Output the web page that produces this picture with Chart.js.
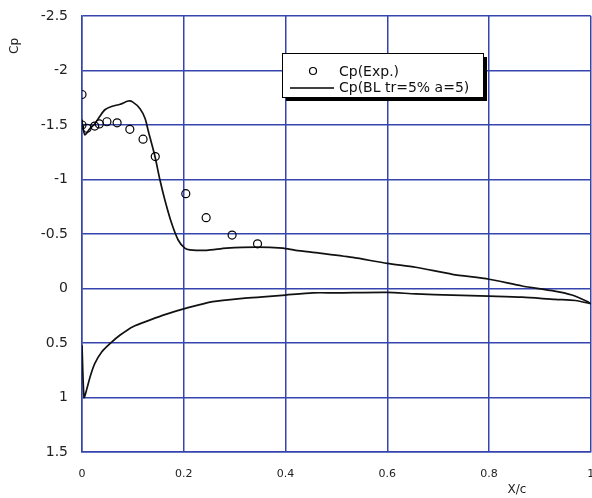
<!DOCTYPE html>
<html>
<head>
<meta charset="utf-8">
<script src="https://cdn.jsdelivr.net/npm/chart.js@4/dist/chart.umd.min.js"></script>
<style>
  html, body { margin: 0; padding: 0; background: #fff; overflow: hidden; }
  /* a few px wider than the window so the x=1 gridline sits on the right edge */
  #wrap { width: 596px; height: 498px; position: relative; }
</style>
</head>
<body>
<div id="wrap"><canvas id="cpChart"></canvas></div>
<script>
// measured pressure coefficients
const expX  = [0, 0, 0.010, 0.025, 0.034, 0.049, 0.069, 0.094, 0.120, 0.144, 0.204, 0.244, 0.295, 0.345];
const expCp = [-1.78, -1.50, -1.47, -1.49, -1.51, -1.53, -1.52, -1.46, -1.37, -1.21, -0.87, -0.65, -0.49, -0.41];

// boundary layer calc, upper surface
const upperX  = [0, 0, 0.003, 0.006, 0.016, 0.025, 0.035, 0.045, 0.058, 0.075, 0.091, 0.100, 0.114, 0.124, 0.130,
                 0.143, 0.153, 0.163, 0.176, 0.189, 0.202, 0.212, 0.245, 0.284, 0.343, 0.395, 0.420, 0.467, 0.532,
                 0.600, 0.656, 0.728, 0.800, 0.865, 0.924, 0.963, 0.993, 1.0];
const upperCp = [-2.05, -1.55, -1.45, -1.41, -1.47, -1.51, -1.58, -1.64, -1.67, -1.69, -1.72, -1.71, -1.65, -1.56, -1.45,
                 -1.22, -1.00, -0.81, -0.60, -0.445, -0.37, -0.355, -0.35, -0.37, -0.38, -0.37, -0.35, -0.325, -0.285,
                 -0.23, -0.195, -0.13, -0.085, -0.023, 0.02, 0.06, 0.12, 0.14];

// boundary layer calc, lower surface
const lowerX  = [0, 0.004, 0.009, 0.016, 0.025, 0.039, 0.055, 0.075, 0.100, 0.133, 0.166, 0.205, 0.257, 0.316,
                 0.362, 0.400, 0.454, 0.500, 0.600, 0.656, 0.728, 0.800, 0.865, 0.930, 0.970, 1.0];
const lowerCp = [0.52, 1.00, 0.93, 0.81, 0.69, 0.58, 0.505, 0.427, 0.35, 0.29, 0.235, 0.18, 0.12, 0.09,
                 0.075, 0.06, 0.04, 0.04, 0.035, 0.05, 0.06, 0.07, 0.08, 0.10, 0.11, 0.14];

const xTicks = [0, 0.2, 0.4, 0.6, 0.8, 1];
const yTicks = [-2.5, -2, -1.5, -1, -0.5, 0, 0.5, 1, 1.5];

const legendLabels = ["Cp(Exp.)", "Cp(BL tr=5% a=5)"];

const toPts = (xs, ys) => xs.map((x, i) => ({ x: x, y: ys[i] }));

const gridBlue = "#3644ad";

// axis titles + boxed legend with drop shadow
const extras = {
  id: "extras",
  afterDraw(chart) {
    const c = chart.ctx;
    c.save();
    c.fillStyle = "#222";
    c.font = "12px 'DejaVu Sans'";
    c.textAlign = "center";
    c.textBaseline = "middle";
    c.fillText("X/c", 517, 490);

    c.save();
    c.translate(15, 46);
    c.rotate(-Math.PI / 2);
    c.fillText("Cp", 0, 0);
    c.restore();

    // legend box
    const bx = 282, by = 53, bw = 201, bh = 44;
    c.fillStyle = "#000";
    c.fillRect(bx + 4, by + 4, bw, bh);
    c.fillStyle = "#fff";
    c.fillRect(bx, by, bw, bh);
    c.strokeStyle = "#000";
    c.lineWidth = 1;
    c.strokeRect(bx + 0.5, by + 0.5, bw, bh);

    c.beginPath();
    c.arc(313, 71, 3.5, 0, Math.PI * 2);
    c.lineWidth = 1.2;
    c.stroke();

    c.beginPath();
    c.moveTo(290, 88);
    c.lineTo(334, 88);
    c.lineWidth = 1.5;
    c.stroke();

    c.fillStyle = "#111";
    c.font = "14px 'DejaVu Sans'";
    c.textAlign = "left";
    c.fillText(legendLabels[0], 339, 72);
    c.fillText(legendLabels[1], 339, 88);
    c.restore();
  }
};

new Chart(document.getElementById("cpChart"), {
  type: "scatter",
  data: {
    datasets: [
      {
        label: legendLabels[0],
        data: toPts(expX, expCp),
        pointStyle: "circle",
        pointRadius: 4,
        pointBorderWidth: 1.2,
        pointBorderColor: "#000",
        pointBackgroundColor: "rgba(255,255,255,0)",
        showLine: false
      },
      {
        label: legendLabels[1],
        data: toPts(upperX, upperCp),
        showLine: true,
        borderColor: "#111",
        borderWidth: 1.7,
        pointRadius: 0,
        tension: 0.25,
        segment: {
          borderDash: ctx => ctx.p0DataIndex === 0 ? [1, 3] : undefined,
          borderColor: ctx => ctx.p0DataIndex === 0 ? "#888" : undefined
        }
      },
      {
        label: legendLabels[1],
        data: toPts(lowerX, lowerCp),
        showLine: true,
        borderColor: "#111",
        borderWidth: 1.7,
        pointRadius: 0,
        tension: 0.25
      }
    ]
  },
  plugins: [extras],
  options: {
    responsive: true,
    maintainAspectRatio: false,
    animation: false,
    layout: { padding: { left: 0, right: 1, top: 16, bottom: 0 } },
    plugins: {
      legend: { display: false },
      tooltip: { enabled: false }
    },
    scales: {
      x: {
        type: "linear",
        min: 0,
        max: 1,
        afterBuildTicks: s => { s.ticks = xTicks.map(v => ({ value: v })); },
        afterFit: s => { s.height = 46; s.paddingLeft = 0; s.paddingRight = 0; },
        grid: { color: gridBlue, lineWidth: 1.5, drawTicks: false },
        border: { color: gridBlue, width: 1.5 },
        ticks: {
          padding: 16,
          color: "#222",
          font: { family: "'DejaVu Sans'", size: 11 },
          maxRotation: 0,
          callback: v => String(v)
        }
      },
      y: {
        type: "linear",
        min: -2.5,
        max: 1.5,
        reverse: true,
        afterBuildTicks: s => { s.ticks = yTicks.map(v => ({ value: v })); },
        afterFit: s => { s.width = 82; s.paddingTop = 0; s.paddingBottom = 0; },
        grid: { color: gridBlue, lineWidth: 1.5, drawTicks: false },
        border: { color: gridBlue, width: 1.5 },
        ticks: {
          padding: 14,
          color: "#222",
          font: { family: "'DejaVu Sans'", size: 14 },
          callback: v => String(v)
        }
      }
    }
  }
});
</script>
</body>
</html>
